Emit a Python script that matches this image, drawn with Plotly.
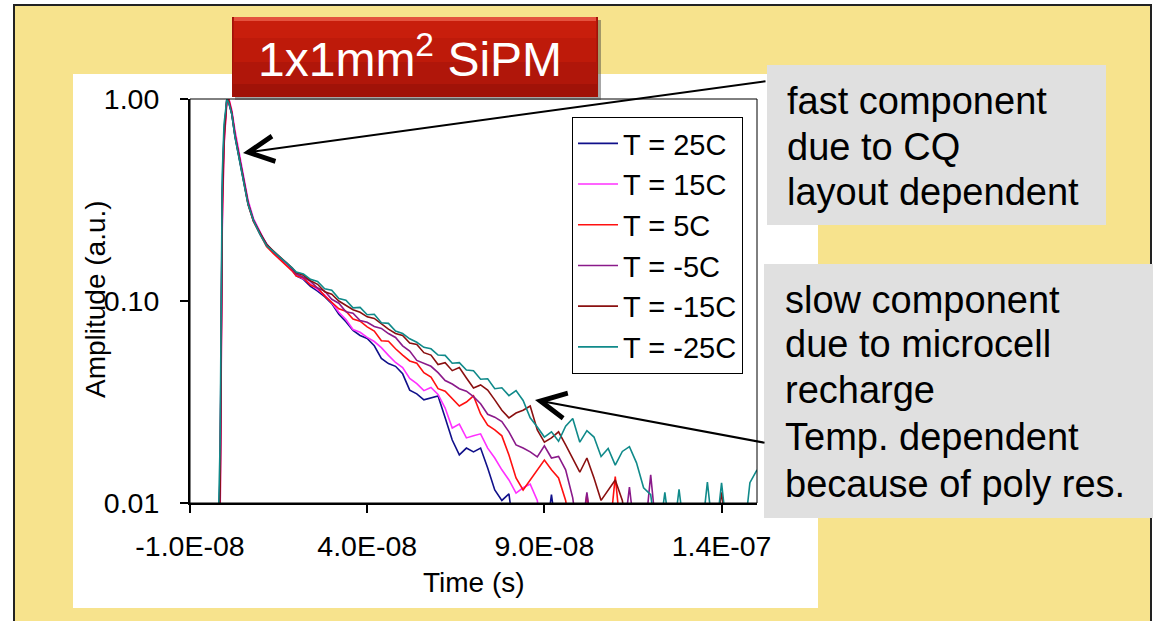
import plotly.graph_objects as go

FONT = "Liberation Sans, Arial, sans-serif"

# ---------------- data (time in ns, amplitude in a.u.) ----------------
t_head_ns = [-3.0, -2.0, -1.5, -1.2, -0.9, -0.4, 0.4, 1.0, 1.8, 2.7, 3.6, 4.6,
             5.5, 6.4, 7.9, 9.8, 11.6, 13.5, 15.4, 17.3, 18.8]

t_tail_ns = [20, 22, 24, 26, 28, 30, 32, 34, 36, 38, 40, 42, 44, 46, 48, 50,
             52, 54, 56, 58, 60, 62, 64, 66, 68, 70, 72, 74, 76, 78, 80, 82,
             84, 86, 88, 90, 92, 94, 96, 98, 100, 102, 104, 106, 108, 110, 112,
             114, 116, 118, 120, 122, 124, 126, 128, 130, 132, 134, 136, 138,
             140, 142, 144, 146, 148, 150]

series_names = ["T = 25C", "T = 15C", "T = 5C", "T = -5C", "T = -15C", "T = -25C"]
series_colors = ["#10108a", "#ff30ff", "#ff1010", "#8a1a8a", "#8a1010", "#108a8a"]

head_25 = [0.005, 0.007, 0.014, 0.08, 0.35, 0.68, 1.0, 0.95, 0.84, 0.65, 0.535,
           0.445, 0.365, 0.30, 0.25, 0.214, 0.191, 0.174, 0.162, 0.151, 0.143]
head_15 = [0.005, 0.005, 0.008, 0.035, 0.22, 0.58, 0.97, 1.0, 0.88, 0.70, 0.57,
           0.47, 0.385, 0.315, 0.256, 0.218, 0.19, 0.174, 0.161, 0.152, 0.142]
head_5 = [0.005, 0.005, 0.009, 0.04, 0.25, 0.60, 0.98, 0.99, 0.86, 0.67, 0.55,
          0.455, 0.37, 0.30, 0.248, 0.212, 0.186, 0.172, 0.160, 0.150, 0.141]
head_m5 = [0.005, 0.006, 0.011, 0.06, 0.30, 0.64, 1.0, 0.96, 0.85, 0.66, 0.54,
           0.45, 0.372, 0.306, 0.253, 0.216, 0.192, 0.176, 0.164, 0.154, 0.144]
head_m15 = [0.005, 0.006, 0.012, 0.065, 0.32, 0.66, 1.0, 0.97, 0.85, 0.66, 0.545,
            0.45, 0.37, 0.305, 0.25, 0.216, 0.19, 0.177, 0.165, 0.155, 0.146]
head_m25 = [0.005, 0.008, 0.02, 0.12, 0.42, 0.75, 1.0, 0.95, 0.84, 0.65, 0.53,
            0.44, 0.36, 0.30, 0.25, 0.213, 0.188, 0.176, 0.165, 0.155, 0.146]

tail_25 = [0.133, 0.128, 0.118, 0.112, 0.105, 0.0970, 0.0860, 0.0790, 0.0715,
           0.0675, 0.0652, 0.0600, 0.0520, 0.0490, 0.0475, 0.0436, 0.0362,
           0.0347, 0.0324, 0.0331, 0.0339, 0.0264, 0.0205, 0.0173, 0.0187,
           0.0179, 0.0187, 0.0149, 0.0116, 0.0103, 0.0111, 0.006, 0.006, 0.006,
           0.006, 0.006, 0.0110, 0.006, 0.006, 0.006, 0.006, 0.006, 0.006,
           0.006, 0.006, 0.006, 0.006, 0.006, 0.006, 0.006, 0.006, 0.006,
           0.006, 0.006, 0.006, 0.006, 0.006, 0.006, 0.006, 0.006, 0.006,
           0.006, 0.006, 0.006, 0.006, 0.006]
tail_15 = [0.134, 0.129, 0.121, 0.114, 0.107, 0.0980, 0.0880, 0.0810, 0.0722,
           0.0700, 0.0660, 0.0630, 0.0588, 0.0538, 0.0496, 0.0468, 0.0414,
           0.0390, 0.0360, 0.0373, 0.0345, 0.0295, 0.0235, 0.0246, 0.0210,
           0.0215, 0.0220, 0.0187, 0.0167, 0.0146, 0.0130, 0.0112, 0.0119,
           0.0124, 0.0103, 0.006, 0.006, 0.006, 0.006, 0.006, 0.006, 0.006,
           0.006, 0.006, 0.006, 0.006, 0.006, 0.006, 0.006, 0.006, 0.006,
           0.006, 0.006, 0.006, 0.006, 0.006, 0.006, 0.006, 0.006, 0.006,
           0.006, 0.006, 0.006, 0.006, 0.006, 0.006]
tail_5 = [0.133, 0.130, 0.120, 0.116, 0.106, 0.0985, 0.0915, 0.0890, 0.0815,
          0.0795, 0.0745, 0.0710, 0.0635, 0.0632, 0.0580, 0.0540, 0.0505,
          0.0492, 0.0442, 0.0420, 0.0368, 0.0358, 0.0328, 0.0302, 0.0316,
          0.0339, 0.0276, 0.0243, 0.0230, 0.0215, 0.0173, 0.0133, 0.0116,
          0.0130, 0.0146, 0.0163, 0.0146, 0.0133, 0.0103, 0.006, 0.006, 0.0110,
          0.006, 0.006, 0.006, 0.0135, 0.006, 0.006, 0.006, 0.006, 0.006,
          0.006, 0.006, 0.006, 0.006, 0.006, 0.006, 0.006, 0.006, 0.006,
          0.006, 0.006, 0.006, 0.006, 0.006, 0.006]
tail_m5 = [0.136, 0.131, 0.125, 0.116, 0.112, 0.102, 0.0975, 0.0885, 0.0870,
           0.0800, 0.0785, 0.0748, 0.0732, 0.0690, 0.0660, 0.0600, 0.0565,
           0.0508, 0.0492, 0.0475, 0.0442, 0.0404, 0.0388, 0.0368, 0.0358,
           0.0336, 0.0310, 0.0275, 0.0266, 0.0253, 0.0225, 0.0194, 0.0187,
           0.0179, 0.0169, 0.0192, 0.0167, 0.0170, 0.0146, 0.0106, 0.006,
           0.0113, 0.006, 0.006, 0.006, 0.006, 0.006, 0.0120, 0.006, 0.006,
           0.0138, 0.006, 0.006, 0.006, 0.006, 0.006, 0.006, 0.006, 0.006,
           0.006, 0.006, 0.006, 0.006, 0.006, 0.006, 0.006]
tail_m15 = [0.138, 0.134, 0.126, 0.121, 0.111, 0.108, 0.100, 0.0950, 0.0905,
            0.0880, 0.0835, 0.0820, 0.0770, 0.0725, 0.0690, 0.0675, 0.0620,
            0.0610, 0.0555, 0.0540, 0.0485, 0.0495, 0.0452, 0.0468, 0.0416,
            0.0371, 0.0384, 0.0362, 0.0324, 0.0288, 0.0264, 0.0279, 0.0288,
            0.0302, 0.0230, 0.0200, 0.0210, 0.0225, 0.0194, 0.0167, 0.0142,
            0.0167, 0.0133, 0.0103, 0.0116, 0.0130, 0.0103, 0.006, 0.006,
            0.006, 0.006, 0.006, 0.006, 0.006, 0.006, 0.006, 0.006, 0.006,
            0.006, 0.006, 0.0113, 0.006, 0.006, 0.006, 0.006, 0.006]
tail_m25 = [0.139, 0.136, 0.128, 0.125, 0.115, 0.113, 0.103, 0.101, 0.0925,
            0.0930, 0.0855, 0.0860, 0.0780, 0.0775, 0.0710, 0.0690, 0.0650,
            0.0625, 0.0590, 0.0580, 0.0540, 0.0538, 0.0492, 0.0495, 0.0455,
            0.0452, 0.0410, 0.0412, 0.0368, 0.0372, 0.0340, 0.0360, 0.0322,
            0.0264, 0.0238, 0.0212, 0.0225, 0.0202, 0.0240, 0.0262, 0.0200,
            0.0228, 0.0212, 0.0170, 0.0186, 0.0154, 0.0180, 0.0190, 0.0158,
            0.0119, 0.0110, 0.006, 0.0113, 0.006, 0.0117, 0.006, 0.006, 0.006,
            0.0127, 0.006, 0.0126, 0.006, 0.006, 0.006, 0.0126, 0.0146]

heads = [head_25, head_15, head_5, head_m5, head_m15, head_m25]
tails = [tail_25, tail_15, tail_5, tail_m5, tail_m15, tail_m25]

x_tickvals = [-1.0e-8, 4.0e-8, 9.0e-8, 1.4e-7]
x_ticktext = ["-1.0E-08", "4.0E-08", "9.0E-08", "1.4E-07"]
y_tickvals = [0.01, 0.1, 1.0]
y_ticktext = ["0.01", "0.10", "1.00"]

# ---------------- layout geometry (pixels) ----------------
W, H = 1153, 621
L, R, T, B = 190, 757, 99, 503


def fx(px):
    return (px - L) / (R - L)


def fy(py):
    return (B - py) / (B - T)


fig = go.Figure()
t_all = [v * 1e-9 for v in t_head_ns + t_tail_ns]
for name, color, hd, tl in zip(series_names, series_colors, heads, tails):
    fig.add_trace(go.Scatter(x=t_all, y=hd + tl, mode="lines", name=name,
                             line=dict(color=color, width=1.6)))

shapes = [
    # slide background with border
    dict(type="rect", xref="paper", yref="paper", x0=fx(14), x1=fx(1151),
         y0=fy(5), y1=fy(660), fillcolor="#f7e38d",
         line=dict(color="#222222", width=2), layer="below"),
    # white chart area
    dict(type="rect", xref="paper", yref="paper", x0=fx(73), x1=fx(818),
         y0=fy(74), y1=fy(608), fillcolor="white", line=dict(width=0),
         layer="below"),
    # plot frame
    dict(type="rect", xref="paper", yref="paper", x0=0, x1=1, y0=0, y1=1,
         line=dict(color="black", width=1), layer="above"),
    # title box shadow
    dict(type="rect", xref="paper", yref="paper", x0=fx(235), x1=fx(601),
         y0=fy(20), y1=fy(100), fillcolor="rgba(60,60,60,0.45)",
         line=dict(width=0), layer="above"),
    # title box body (gradient bands)
    dict(type="rect", xref="paper", yref="paper", x0=fx(232), x1=fx(598),
         y0=fy(17), y1=fy(97), fillcolor="#a01208", line=dict(width=0),
         layer="above"),
    dict(type="rect", xref="paper", yref="paper", x0=fx(233), x1=fx(597),
         y0=fy(18), y1=fy(84), fillcolor="#b0160a", line=dict(width=0),
         layer="above"),
    dict(type="rect", xref="paper", yref="paper", x0=fx(234), x1=fx(596),
         y0=fy(19), y1=fy(62), fillcolor="#be1a0a", line=dict(width=0),
         layer="above"),
    dict(type="rect", xref="paper", yref="paper", x0=fx(234), x1=fx(596),
         y0=fy(19), y1=fy(38), fillcolor="#c81e0c", line=dict(width=0),
         layer="above"),
    dict(type="rect", xref="paper", yref="paper", x0=fx(234), x1=fx(596),
         y0=fy(17), y1=fy(21), fillcolor="#e4523e", line=dict(width=0),
         layer="above"),
    # grey note boxes
    dict(type="rect", xref="paper", yref="paper", x0=fx(767), x1=fx(1106),
         y0=fy(65), y1=fy(225), fillcolor="#e0e0e0", line=dict(width=0),
         layer="above"),
    dict(type="rect", xref="paper", yref="paper", x0=fx(764), x1=fx(1160),
         y0=fy(264), y1=fy(518), fillcolor="#e0e0e0", line=dict(width=0),
         layer="above"),
]

annotations = [
    dict(text="1x1mm<sup>2</sup> SiPM", xref="paper", yref="paper",
         x=fx(410), y=fy(56), xanchor="center", yanchor="middle",
         showarrow=False, font=dict(family=FONT, size=48, color="white")),
    dict(text="Time (s)", xref="paper", yref="paper", x=fx(474), y=fy(582),
         xanchor="center", yanchor="middle", showarrow=False,
         font=dict(family=FONT, size=28, color="black")),
    dict(text="Amplitude (a.u.)", xref="paper", yref="paper", x=fx(95),
         y=fy(299), xanchor="center", yanchor="middle", textangle=-90,
         showarrow=False, font=dict(family=FONT, size=28, color="black")),
]

note1 = ["fast component", "due to CQ", "layout dependent"]
note1_y = [101, 147, 192]
for txt, yy in zip(note1, note1_y):
    annotations.append(dict(text=txt, xref="paper", yref="paper", x=fx(785),
                            y=fy(yy), xanchor="left", yanchor="middle",
                            showarrow=False,
                            font=dict(family=FONT, size=38, color="black")))

note2 = ["slow component", "due to microcell", "recharge", "Temp. dependent",
         "because of poly res."]
note2_y = [300, 344, 390, 437, 484]
for txt, yy in zip(note2, note2_y):
    annotations.append(dict(text=txt, xref="paper", yref="paper", x=fx(783),
                            y=fy(yy), xanchor="left", yanchor="middle",
                            showarrow=False,
                            font=dict(family=FONT, size=38, color="black")))

# arrows
annotations.append(dict(text="", xref="paper", yref="paper", x=fx(243),
                        y=fy(153), ax=767 - 243, ay=81 - 153, showarrow=True,
                        arrowhead=5, arrowsize=2.5, arrowwidth=2,
                        arrowcolor="black"))
annotations.append(dict(text="", xref="paper", yref="paper", x=fx(535),
                        y=fy(400), ax=766 - 535, ay=443 - 400, showarrow=True,
                        arrowhead=5, arrowsize=2.5, arrowwidth=2,
                        arrowcolor="black"))

fig.update_layout(
    width=W, height=H, autosize=False,
    margin=dict(l=L, r=W - R, t=T, b=H - B, pad=0),
    paper_bgcolor="white", plot_bgcolor="rgba(0,0,0,0)",
    font=dict(family=FONT, color="black"),
    showlegend=True,
    legend=dict(x=fx(572), y=fy(117), xanchor="left", yanchor="top",
                bgcolor="white", bordercolor="black", borderwidth=1,
                font=dict(family=FONT, size=29, color="black"),
                itemwidth=40, tracegroupgap=0),
    shapes=shapes,
    annotations=annotations,
    xaxis=dict(range=[-1.0e-8, 1.5e-7], tickvals=x_tickvals,
               ticktext=x_ticktext, ticks="outside", ticklen=8, tickwidth=1.5,
               tickcolor="black", showline=True, linecolor="black",
               linewidth=2, showgrid=False, zeroline=False,
               tickfont=dict(family=FONT, size=28.5, color="black"),
               ticklabelstandoff=9),
    yaxis=dict(type="log", range=[-2, 0], tickvals=y_tickvals,
               ticktext=y_ticktext, ticks="outside", ticklen=8, tickwidth=1.5,
               tickcolor="black", showline=True, linecolor="black",
               linewidth=2, showgrid=False, zeroline=False,
               tickfont=dict(family=FONT, size=28.5, color="black"),
               ticklabelstandoff=15),
)

fig.write_html("out.html", config={"displayModeBar": False})
